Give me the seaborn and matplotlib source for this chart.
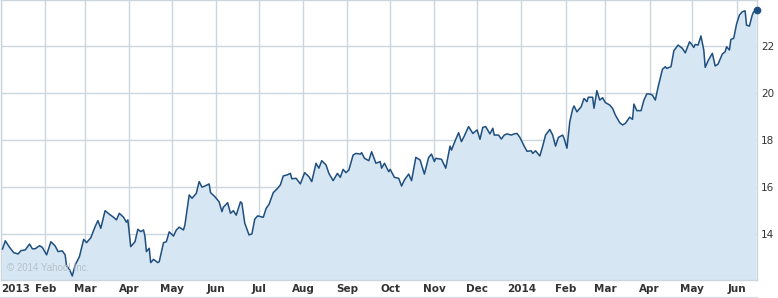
import matplotlib
matplotlib.use("Agg")
import matplotlib.pyplot as plt
import matplotlib.dates as mdates
from matplotlib.lines import Line2D
import seaborn as sns
import pandas as pd

dates = [
    "2013-01-02", "2013-01-04", "2013-01-07", "2013-01-10", "2013-01-13", "2013-01-15",
    "2013-01-18", "2013-01-21", "2013-01-23", "2013-01-25", "2013-01-28", "2013-01-30",
    "2013-02-02", "2013-02-05", "2013-02-08", "2013-02-10", "2013-02-13", "2013-02-15",
    "2013-02-16", "2013-02-18", "2013-02-20", "2013-02-22", "2013-02-25", "2013-02-28",
    "2013-03-02", "2013-03-05", "2013-03-08", "2013-03-10", "2013-03-12", "2013-03-15",
    "2013-03-18", "2013-03-21", "2013-03-23", "2013-03-25", "2013-03-28", "2013-03-30",
    "2013-03-31", "2013-04-02", "2013-04-05", "2013-04-07", "2013-04-09", "2013-04-11",
    "2013-04-12", "2013-04-13", "2013-04-15", "2013-04-16", "2013-04-18", "2013-04-21",
    "2013-04-22", "2013-04-25", "2013-04-27", "2013-04-29", "2013-05-02", "2013-05-04",
    "2013-05-06", "2013-05-09", "2013-05-10", "2013-05-13", "2013-05-15", "2013-05-18",
    "2013-05-20", "2013-05-22", "2013-05-24", "2013-05-27", "2013-05-28", "2013-05-31",
    "2013-06-03", "2013-06-05", "2013-06-06", "2013-06-09", "2013-06-11", "2013-06-13",
    "2013-06-15", "2013-06-18", "2013-06-19", "2013-06-21", "2013-06-24", "2013-06-26",
    "2013-06-28", "2013-06-30", "2013-07-02", "2013-07-04", "2013-07-06", "2013-07-08",
    "2013-07-11", "2013-07-14", "2013-07-16", "2013-07-18", "2013-07-21", "2013-07-23",
    "2013-07-24", "2013-07-27", "2013-07-30", "2013-08-02", "2013-08-05", "2013-08-07",
    "2013-08-10", "2013-08-12", "2013-08-14", "2013-08-17", "2013-08-19", "2013-08-22",
    "2013-08-25", "2013-08-27", "2013-08-29", "2013-08-31", "2013-09-02", "2013-09-05",
    "2013-09-07", "2013-09-10", "2013-09-11", "2013-09-13", "2013-09-16", "2013-09-18",
    "2013-09-21", "2013-09-24", "2013-09-25", "2013-09-27", "2013-09-30", "2013-10-01",
    "2013-10-04", "2013-10-07", "2013-10-09", "2013-10-11", "2013-10-14", "2013-10-16",
    "2013-10-19", "2013-10-22", "2013-10-25", "2013-10-28", "2013-10-30", "2013-11-01",
    "2013-11-02", "2013-11-06", "2013-11-09", "2013-11-12", "2013-11-13", "2013-11-16",
    "2013-11-18", "2013-11-20", "2013-11-22", "2013-11-25", "2013-11-28", "2013-12-01",
    "2013-12-03", "2013-12-05", "2013-12-07", "2013-12-10", "2013-12-12", "2013-12-13",
    "2013-12-16", "2013-12-18", "2013-12-20", "2013-12-22", "2013-12-25", "2013-12-27",
    "2013-12-29", "2013-12-31", "2014-01-03", "2014-01-05", "2014-01-08", "2014-01-09",
    "2014-01-11", "2014-01-14", "2014-01-16", "2014-01-18", "2014-01-21", "2014-01-23",
    "2014-01-25", "2014-01-27", "2014-01-30", "2014-01-31", "2014-02-02", "2014-02-04",
    "2014-02-06", "2014-02-07", "2014-02-09", "2014-02-12", "2014-02-14", "2014-02-16",
    "2014-02-17", "2014-02-20", "2014-02-21", "2014-02-23", "2014-02-25", "2014-02-27",
    "2014-03-01", "2014-03-04", "2014-03-06", "2014-03-08", "2014-03-11", "2014-03-13",
    "2014-03-15", "2014-03-18", "2014-03-20", "2014-03-21", "2014-03-23", "2014-03-26",
    "2014-03-28", "2014-03-30", "2014-04-01", "2014-04-03", "2014-04-05", "2014-04-07",
    "2014-04-10", "2014-04-12", "2014-04-13", "2014-04-16", "2014-04-18", "2014-04-21",
    "2014-04-24", "2014-04-26", "2014-04-29", "2014-04-30", "2014-05-02", "2014-05-03",
    "2014-05-05", "2014-05-07", "2014-05-09", "2014-05-10", "2014-05-12", "2014-05-15",
    "2014-05-17", "2014-05-19", "2014-05-22", "2014-05-24", "2014-05-25", "2014-05-27",
    "2014-05-28", "2014-05-30", "2014-06-01", "2014-06-03", "2014-06-05", "2014-06-07",
    "2014-06-08", "2014-06-10", "2014-06-12", "2014-06-13", "2014-06-15",
]

prices = [
    13.35, 13.71, 13.43, 13.20, 13.15, 13.29,
    13.32, 13.57, 13.37, 13.37, 13.50, 13.43,
    13.11, 13.67, 13.49, 13.25, 13.28, 13.11,
    12.64, 12.50, 12.21, 12.68, 13.03, 13.77,
    13.63, 13.84, 14.31, 14.57, 14.24, 14.99,
    14.84, 14.71, 14.60, 14.88, 14.71, 14.50,
    14.60, 13.46, 13.67, 14.20, 14.10, 14.17,
    13.89, 13.25, 13.39, 12.78, 12.92, 12.78,
    12.82, 13.63, 13.67, 14.09, 13.91, 14.17,
    14.29, 14.17, 14.38, 15.66, 15.52, 15.73,
    16.23, 15.99, 16.04, 16.13, 15.76, 15.59,
    15.37, 14.95, 15.14, 15.33, 14.88, 14.99,
    14.80, 15.37, 15.31, 14.46, 13.96, 14.00,
    14.63, 14.77, 14.74, 14.71, 15.09, 15.26,
    15.76, 15.94, 16.09, 16.47, 16.52, 16.58,
    16.35, 16.37, 16.13, 16.61, 16.44, 16.23,
    17.01, 16.80, 17.12, 16.94, 16.58, 16.27,
    16.58, 16.41, 16.75, 16.61, 16.72, 17.36,
    17.43, 17.40, 17.46, 17.22, 17.12, 17.50,
    17.01, 17.08, 16.80, 17.01, 16.65, 16.75,
    16.41, 16.37, 16.04, 16.30, 16.55, 16.27,
    17.26, 17.15, 16.55, 17.26, 17.40, 17.08,
    17.22, 17.18, 16.80, 17.74, 17.57, 18.03,
    18.31, 17.93, 18.17, 18.57, 18.28, 18.43,
    18.03, 18.54, 18.57, 18.26, 18.50, 18.21,
    18.21, 18.04, 18.21, 18.26, 18.21, 18.26,
    18.28, 18.11, 17.74, 17.52, 17.54, 17.43,
    17.54, 17.32, 17.74, 18.21, 18.45, 18.21,
    17.74, 18.11, 18.21, 18.07, 17.65, 18.78,
    19.31, 19.45, 19.20, 19.42, 19.77, 19.63,
    19.82, 19.82, 19.35, 20.10, 19.70, 19.80,
    19.59, 19.49, 19.35, 19.06, 18.74, 18.64,
    18.71, 18.97, 18.88, 19.53, 19.25, 19.25,
    19.70, 19.96, 19.96, 19.91, 19.70, 20.27,
    21.01, 21.12, 21.05, 21.12, 21.80, 22.04,
    21.90, 21.71, 22.18, 22.11, 21.94, 22.07,
    22.04, 22.43, 21.83, 21.09, 21.37, 21.69,
    21.15, 21.23, 21.66, 21.76, 21.97, 21.83,
    22.28, 22.33, 22.94, 23.32, 23.46, 23.50,
    22.89, 22.85, 23.32, 23.46, 23.53,
]

month_ticks = [
    "2013-01-01", "2013-02-01", "2013-03-01", "2013-04-01", "2013-05-01", "2013-06-01",
    "2013-07-01", "2013-08-01", "2013-09-01", "2013-10-01", "2013-11-01", "2013-12-01",
    "2014-01-01", "2014-02-01", "2014-03-01", "2014-04-01", "2014-05-01", "2014-06-01",
]
month_labels = ["2013", "Feb", "Mar", "Apr", "May", "Jun", "Jul", "Aug", "Sep", "Oct",
                "Nov", "Dec", "2014", "Feb", "Mar", "Apr", "May", "Jun"]
y_ticks = [14, 16, 18, 20, 22]

sns.set_style("white")
plt.rcParams["font.family"] = ["DejaVu Sans"]

df = pd.DataFrame({"date": pd.to_datetime(dates), "price": prices})

W, H = 778, 298
fig = plt.figure(figsize=(W / 100, H / 100), dpi=100)
ax = fig.add_axes([1 / W, 18 / H, 756 / W, 280 / H])

line_c = "#1f4f80"
fill_c = "#d6e6f2"
grid_c = "#cbd6df"

ax.fill_between(df["date"], df["price"], 0, color=fill_c, linewidth=0, zorder=1)
sns.lineplot(data=df, x="date", y="price", ax=ax, color=line_c, linewidth=1.1, zorder=3)
ax.plot(df["date"].iloc[-1], df["price"].iloc[-1], "o", color=line_c, markersize=4.5,
        clip_on=False, zorder=4)

ax.set_xlim(pd.Timestamp("2013-01-01"), pd.Timestamp("2014-06-15 08:00"))
ax.set_ylim(12.04, 23.96)

ax.set_xticks(pd.to_datetime(month_ticks))
ax.set_xticklabels(month_labels)
ax.set_yticks(y_ticks)
ax.set_yticklabels([str(v) for v in y_ticks])
ax.yaxis.tick_right()
ax.set_xlabel("")
ax.set_ylabel("")

ax.grid(True, color=grid_c, linewidth=1.0, zorder=0)
ax.set_axisbelow(True)
for s in ax.spines.values():
    s.set_color(grid_c)
    s.set_linewidth(1.0)

ax.tick_params(axis="x", length=0, pad=3, labelsize=7.5, labelcolor="#333333")
ax.tick_params(axis="y", length=0, pad=3, labelsize=7.5, labelcolor="#333333")
for lbl in ax.get_xticklabels():
    lbl.set_fontweight("bold")
xl = ax.get_xticklabels()
xl[0].set_horizontalalignment("left")

ax.text(6 / 756, 7 / 280, "\u00a9 2014 Yahoo! Inc.", transform=ax.transAxes,
        fontsize=7, color="#b5c2cd", family="Liberation Sans", ha="left", va="bottom",
        zorder=5)

fig.add_artist(Line2D([0, 757 / W], [1 - 296.5 / H, 1 - 296.5 / H],
                      color="#d8dde2", linewidth=1.0))

fig.savefig("out.png", dpi=100)
